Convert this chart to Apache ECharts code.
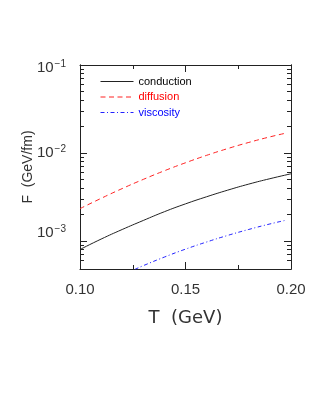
<!DOCTYPE html>
<html><head><meta charset="utf-8">
<script src="https://cdn.jsdelivr.net/npm/echarts@6/dist/echarts.min.js"></script>
<style>html,body{margin:0;padding:0;background:#fff}#c{width:327px;height:409px}</style>
</head><body><div id="c"></div>
<script>
const seriesNames = ['conduction', 'diffusion', 'viscosity'];
const conductionT = [0.10, 0.11, 0.12, 0.13, 0.14, 0.15, 0.16, 0.17, 0.18, 0.19, 0.20];
const conductionF = [8.0e-4, 1.05e-3, 1.35e-3, 1.71e-3, 2.15e-3, 2.64e-3, 3.18e-3, 3.78e-3, 4.43e-3, 5.1e-3, 5.8e-3];
const diffusionT = [0.10, 0.11, 0.12, 0.13, 0.14, 0.15, 0.16, 0.17, 0.18, 0.19, 0.198];
const diffusionF = [2.33e-3, 3.05e-3, 3.94e-3, 5.01e-3, 6.28e-3, 7.74e-3, 9.4e-3, 1.122e-2, 1.318e-2, 1.524e-2, 1.69e-2];
const viscosityT = [0.126, 0.13, 0.14, 0.15, 0.16, 0.17, 0.18, 0.19, 0.1976];
const viscosityF = [4.75e-4, 5.24e-4, 6.56e-4, 8.07e-4, 9.73e-4, 1.156e-3, 1.352e-3, 1.56e-3, 1.72e-3];
const xTicks = [0.10, 0.15, 0.20];
const yMajor = [1e-3, 1e-2, 1e-1];
const yMinor = [6e-4, 7e-4, 8e-4, 9e-4, 2e-3, 3e-3, 4e-3, 5e-3, 6e-3, 7e-3, 8e-3, 9e-3, 2e-2, 3e-2, 4e-2, 5e-2, 6e-2, 7e-2, 8e-2, 9e-2];
const yMin = 4.8e-4, yMax = 0.1;

const zip = (a, b) => a.map((v, i) => [v, b[i]]);
const axisColor = '#222';
const font = 'Liberation Sans, Arial, sans-serif';

function yAx(pos, custom, len, labels) {
  return {
    type: 'log', logBase: 10, min: yMin, max: yMax, position: pos,
    axisLine: {show: true, onZero: false, lineStyle: {color: axisColor, width: 1}},
    axisTick: {show: true, inside: true, length: len, customValues: custom, lineStyle: {color: axisColor}},
    minorTick: {show: false},
    splitLine: {show: false},
    axisLabel: labels ? {
      show: true, customValues: yMajor, margin: 14, verticalAlign: 'middle',
      formatter: v => {
        const e = Math.round(-Math.log10(v));
        return '{b' + e + '|10}{s' + e + '|\u2212' + e + '}';
      },
      rich: {
        b1: {fontSize: 15, fontFamily: font, color: '#333', padding: [6, 0, 0, 0]},
        s1: {fontSize: 10, fontFamily: font, color: '#333', padding: [0, 0, 2, 1]},
        b2: {fontSize: 15, fontFamily: font, color: '#333', padding: [0, 0, 0, 0]},
        s2: {fontSize: 10, fontFamily: font, color: '#333', padding: [0, 0, 8, 1]},
        b3: {fontSize: 15, fontFamily: font, color: '#333', padding: [0, 0, 16, 0]},
        s3: {fontSize: 10, fontFamily: font, color: '#333', padding: [0, 0, 24, 1]}
      }
    } : {show: false},
    name: labels ? 'F  (GeV/fm)' : '',
    nameLocation: 'middle', nameGap: 45, nameRotate: 90, nameMoveOverlap: false,
    nameTextStyle: {fontSize: 14, fontFamily: font, color: '#333'}
  };
}
function xAx(pos, labels) {
  return {
    type: 'value', min: 0.10, max: 0.20, interval: 0.05, position: pos,
    axisLine: {show: true, onZero: false, lineStyle: {color: axisColor, width: 1}},
    axisTick: {show: true, inside: true, length: 7, lineStyle: {color: axisColor}},
    minorTick: {show: true, splitNumber: 2, length: 4, lineStyle: {color: axisColor}},
    splitLine: {show: false},
    axisLabel: labels ? {show: true, margin: 13, fontSize: 15, fontFamily: font, color: '#333',
      customValues: xTicks, formatter: v => v.toFixed(2)} : {show: false},
    name: labels ? 'T  (GeV)' : '',
    nameLocation: 'middle', nameGap: 40, nameMoveOverlap: false,
    nameTextStyle: {fontSize: 18, fontFamily: 'DejaVu Sans, sans-serif', color: '#333'}
  };
}

const chart = echarts.init(document.getElementById('c'), null, {renderer: 'canvas'});
chart.setOption({
  animation: false,
  grid: {left: 80, right: 36, top: 65, bottom: 140, containLabel: false},
  legend: {
    orient: 'vertical', left: 95, top: 71, itemWidth: 33, itemHeight: 8, itemGap: 4.5,
    itemStyle: {opacity: 0},
    lineStyle: {width: 1},
    textStyle: {fontSize: 11, fontFamily: font, lineHeight: 10},
    data: [
      {name: 'conduction', textStyle: {color: '#000'}},
      {name: 'diffusion', textStyle: {color: '#ff0000'}},
      {name: 'viscosity', textStyle: {color: '#0000ff'}}
    ]
  },
  xAxis: [xAx('bottom', true), xAx('top', false)],
  yAxis: [yAx('left', yMajor, 7, true), yAx('left', yMinor, 4, false), yAx('right', yMajor, 7, false), yAx('right', yMinor, 4, false)],
  series: [
    {name: seriesNames[0], type: 'line', data: zip(conductionT, conductionF), smooth: true, symbol: 'none',
      lineStyle: {color: '#222', width: 1}, itemStyle: {color: '#222'}},
    {name: seriesNames[1], type: 'line', data: zip(diffusionT, diffusionF), smooth: true, symbol: 'none',
      lineStyle: {color: '#ff2222', width: 1, type: [5, 3.5]}, itemStyle: {color: '#ff2222'}},
    {name: seriesNames[2], type: 'line', data: zip(viscosityT, viscosityF), smooth: true, symbol: 'none',
      lineStyle: {color: '#2222ff', width: 1, type: [4, 2.5, 1, 2.5]}, itemStyle: {color: '#2222ff'}}
  ]
});
</script></body></html>
